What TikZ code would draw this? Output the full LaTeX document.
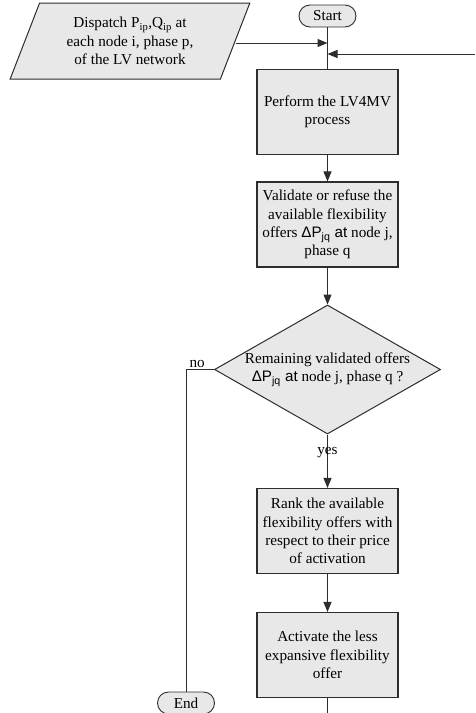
\documentclass[tikz,border=0pt]{standalone}
\usepackage{fontspec}
\setmainfont{Liberation Serif}
\newfontfamily\arialf{Liberation Sans}
\usepackage{tikz}
\usetikzlibrary{arrows.meta,shapes.geometric}
\definecolor{ink}{RGB}{45,45,45}
\definecolor{soft}{RGB}{232,232,232}
\tikzset{
  proc/.style={draw=ink,fill=soft,line width=1.1pt,minimum width=141pt,
    minimum height=85pt,align=center,inner sep=2pt},
  term/.style={draw=ink,fill=soft,line width=0.9pt,rounded corners=11pt,
    minimum width=57pt,minimum height=22pt,inner sep=0pt},
  io/.style={draw=ink,fill=soft,trapezium,trapezium left angle=66.5,
    trapezium right angle=113.5,trapezium stretches=true,
    minimum width=240pt,minimum height=76pt,align=center,inner sep=0pt},
  dec/.style={draw=ink,fill=soft,diamond,aspect=1.75,minimum width=226pt,
    minimum height=129pt,inner sep=0pt,align=center},
  fl/.style={-{Triangle[length=10pt,width=8pt]}},
}
\newcommand{\dPjq}{{\arialf ΔP\textsubscript{jq} at}}

\begin{document}
\begin{tikzpicture}[x=1pt,y=-1pt,
  every node/.style={font=\fontsize{15.2}{18.3}\selectfont},
  line width=1pt,draw=ink]
  \useasboundingbox (0,0) rectangle (475,713);
  % start and input data
  \node[term] (start) at (327.5,16) {Start};
  \node[io]   (disp)  at (130,41)
     {Dispatch P\textsubscript{ip},Q\textsubscript{ip} at\\each node i, phase p,\\of the LV network};
  % main column
  \node[proc] (perf)  at (327.5,112)   {Perform the LV4MV\\process};
  \node[proc] (valid) at (327.5,224.5) {Validate or refuse the\\available flexibility\\offers \dPjq{} node j,\\phase q};
  \node[dec]  (remain) at (327.5,369.5) {Remaining validated offers\\\dPjq{} node j, phase q ?};
  \node[proc] (rank)  at (327.5,531)   {Rank the available\\flexibility offers with\\respect to their price\\of activation};
  \node[proc] (activ) at (327.5,655)   {Activate the less\\expansive flexibility\\offer};
  \node[term] (end)   at (186,703)     {End};
  % loose ends
  \coordinate (join)    at (327.5,43);
  \coordinate (loopin)  at (475,54);
  \coordinate (loopout) at (327.5,713);
  \draw (start) -- (perf);
  \draw[fl] (disp.east |- join) -- (join);
  \draw[fl] (loopin) -- (loopin -| start);
  \draw[fl] (perf) -- (valid);
  \draw[fl] (valid) -- (remain);
  \draw[fl] (remain) -- node[pos=0.33,inner sep=0pt]{yes} (rank);
  \draw (remain.west) -- node[above,pos=0.6,inner sep=1pt]{no} (remain.west -| end) -- (end);
  \draw[fl] (rank) -- (activ);
  \draw (activ) -- (loopout);
\end{tikzpicture}
\end{document}
